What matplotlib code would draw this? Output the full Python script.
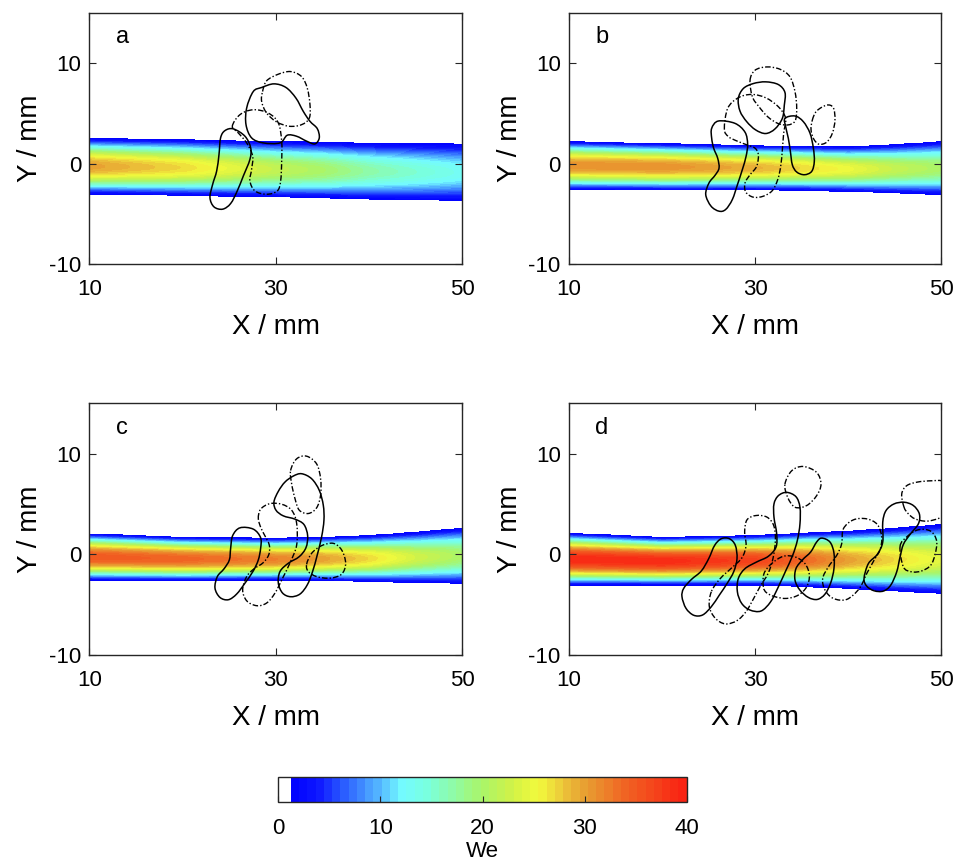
import numpy as np
import matplotlib
matplotlib.use('Agg')
import matplotlib.pyplot as plt
from matplotlib.colors import LinearSegmentedColormap, ListedColormap, BoundaryNorm
from matplotlib.path import Path
from matplotlib.patches import PathPatch
from matplotlib.cm import ScalarMappable

plt.rcParams['font.family'] = ['Liberation Sans', 'DejaVu Sans']
plt.rcParams['axes.unicode_minus'] = False

# stations along the jet (mm) where edges and peak We were read
x_st = [10, 20, 30, 35, 40, 45, 50]

# upper / lower jet edge (mm) and centreline We, per panel
top_a = [2.5, 2.4, 2.2, 2.15, 2.05, 2.0, 1.95]
bot_a = [-3.0, -3.15, -3.3, -3.4, -3.5, -3.6, -3.65]
peak_a = [30, 27, 22, 20, 17, 15, 13]

top_b = [2.2, 2.0, 1.8, 1.75, 1.7, 1.9, 2.2]
bot_b = [-2.57, -2.6, -2.6, -2.65, -2.75, -2.9, -3.06]
peak_b = [31, 31, 29, 27, 25, 22, 20]

top_c = [2.04, 1.7, 1.6, 1.7, 1.87, 2.2, 2.6]
bot_c = [-2.57, -2.6, -2.57, -2.6, -2.7, -2.8, -2.9]
peak_c = [35, 34, 32, 30, 27, 23, 20]

top_d = [2.1, 1.7, 1.87, 2.1, 2.3, 2.6, 2.96]
bot_d = [-3.06, -3.06, -3.06, -3.2, -3.4, -3.65, -3.9]
peak_d = [39, 39, 37, 34, 30, 27, 24]

# vortex outlines (mm): solid = one sign, dash-dot = the other
a_solid = [
    [(25.45, 3.46), (24.55, 3.29), (24.08, 2.57), (23.91, 0.92), (23.66, -0.72), (23.23, -2.04),
     (22.94, -3.36), (23.37, -4.28), (24.30, -4.51), (25.16, -3.95), (25.87, -2.70), (26.52, -1.22),
     (27.23, 0.43), (27.31, 1.58), (26.70, 2.73)],
    [(27.59, 7.17), (26.88, 5.53), (26.81, 3.88), (27.41, 2.57), (28.67, 2.07), (30.46, 2.07),
     (31.24, 2.83), (32.24, 2.73), (33.32, 2.24), (34.21, 1.97), (34.68, 2.57), (34.46, 3.49),
     (33.68, 4.21), (32.96, 5.20), (32.17, 6.52), (31.10, 7.57), (29.81, 7.93), (28.49, 7.57)],
]
a_dash = [
    [(25.34, 3.72), (26.16, 4.87), (27.59, 5.36), (29.20, 5.03), (30.28, 4.05), (30.64, 2.24),
     (30.64, 0.26), (30.53, -1.71), (30.17, -2.70), (29.02, -3.03), (27.77, -2.70), (27.23, -1.71),
     (27.41, -0.56), (27.52, 0.76), (26.88, 2.07), (25.98, 3.06)],
    [(28.59, 7.17), (29.02, 8.23), (30.28, 8.89), (31.60, 9.15), (32.78, 8.65), (33.39, 7.50),
     (33.68, 5.86), (33.61, 4.54), (32.78, 3.88), (31.46, 3.72), (30.10, 4.15), (29.02, 5.03),
     (28.49, 6.19)],
]

b_solid = [
    [(25.32, 3.52), (26.03, 4.24), (27.82, 4.01), (28.90, 3.13), (29.18, 1.94), (29.01, 0.72),
     (28.61, -0.59), (28.11, -2.01), (27.54, -3.55), (26.82, -4.54), (26.11, -4.71), (25.25, -4.21),
     (24.68, -3.06), (25.03, -1.91), (25.68, -1.15), (26.11, -0.43), (25.96, 0.56), (25.53, 1.55),
     (25.32, 2.53)],
    [(28.72, 7.47), (29.79, 7.96), (31.12, 8.13), (32.48, 7.86), (33.19, 7.07), (33.12, 5.82),
     (32.91, 4.51), (32.12, 3.46), (31.12, 3.00), (30.04, 3.36), (29.08, 4.18), (28.36, 5.23),
     (28.18, 6.48)],
    [(33.19, 4.51), (34.27, 4.74), (35.16, 4.18), (35.88, 3.03), (36.24, 1.55), (36.34, 0.23),
     (36.06, -0.76), (35.27, -1.09), (34.45, -0.82), (33.98, -0.10), (33.77, 1.22), (33.55, 2.53),
     (33.26, 3.69)],
]
b_dash = [
    [(26.68, 3.45), (27.04, 5.50), (28.18, 6.55), (29.61, 6.88), (31.12, 6.55), (32.48, 5.66),
     (33.26, 4.51), (33.05, 3.03), (32.91, 1.38), (32.73, -0.26), (32.41, -1.58), (31.83, -2.67),
     (30.87, -3.22), (29.79, -3.32), (28.97, -2.80), (28.90, -1.91), (29.44, -1.09), (30.15, -0.26),
     (30.33, 0.89), (29.97, 1.55), (29.08, 1.88), (28.00, 2.27), (27.11, 2.70)],
    [(29.44, 8.29), (29.97, 9.28), (31.23, 9.61), (32.66, 9.38), (33.73, 8.62), (34.27, 7.14),
     (34.45, 5.50), (34.27, 4.24), (33.48, 3.85), (32.41, 4.01), (31.33, 4.67), (30.40, 5.66),
     (29.69, 6.65)],
    [(36.13, 4.34), (36.59, 5.23), (37.67, 5.82), (38.38, 5.56), (38.56, 4.34), (38.28, 3.03),
     (37.67, 2.14), (36.84, 1.94), (36.27, 2.47), (35.99, 3.36)],
]

c_solid = [
    [(26.16, 2.63), (27.59, 2.50), (28.38, 1.65), (28.38, 0.59), (28.13, -0.56), (27.59, -1.65),
     (26.70, -2.86), (25.80, -3.95), (24.91, -4.51), (24.01, -4.28), (23.48, -3.36), (23.73, -2.21),
     (24.44, -1.45), (25.02, -0.56), (25.16, 0.59), (25.37, 1.84)],
    [(30.99, 7.17), (31.89, 7.77), (32.78, 8.00), (33.86, 7.50), (34.68, 6.35), (35.11, 4.87),
     (35.18, 3.39), (34.93, 1.74), (34.46, -0.07), (33.96, -1.71), (33.39, -3.03), (32.60, -3.95),
     (31.60, -4.21), (30.74, -3.85), (30.28, -2.86), (30.46, -1.71), (31.35, -0.89), (32.53, -0.23),
     (33.25, 0.66), (33.43, 1.84), (33.03, 2.96), (32.07, 3.49), (30.81, 3.82), (30.03, 4.38),
     (29.81, 5.20), (30.28, 6.25)],
]
c_dash = [
    [(28.13, 3.55), (28.38, 4.48), (29.38, 5.03), (30.64, 4.97), (31.71, 4.38), (32.25, 3.06),
     (32.25, 0.92), (31.60, -0.72), (30.74, -2.37), (29.92, -3.85), (29.02, -4.84), (27.95, -5.10),
     (26.88, -4.61), (26.45, -3.52), (26.88, -2.21), (27.66, -1.45), (28.67, -0.82), (29.27, 0.00),
     (29.31, 0.92), (28.84, 1.84), (28.41, 2.63)],
    [(31.60, 8.32), (32.25, 9.48), (33.32, 9.74), (34.39, 8.98), (34.82, 7.50), (34.82, 5.86),
     (34.39, 4.61), (33.50, 4.05), (32.53, 4.38), (32.07, 5.53), (31.71, 7.01)],
    [(33.32, -1.00), (33.86, 0.10), (34.93, 0.86), (36.18, 1.09), (37.08, 0.43), (37.51, -0.89),
     (37.08, -1.97), (35.82, -2.37), (34.39, -2.21), (33.50, -1.71)],
]

d_solid = [
    [(22.31, -3.39), (22.13, -4.21), (22.56, -5.36), (23.39, -6.05), (24.35, -6.02), (25.28, -5.20),
     (26.14, -4.05), (26.97, -2.90), (27.68, -1.74), (28.04, -0.43), (27.86, 0.89), (27.22, 1.55),
     (26.36, 1.55), (25.64, 0.89), (25.00, -0.43), (24.21, -1.65), (23.14, -2.50)],
    [(33.37, 6.15), (34.37, 5.72), (34.80, 4.67), (34.80, 3.02), (34.52, 1.38), (34.02, -0.10),
     (33.30, -1.58), (32.48, -3.23), (31.65, -4.71), (30.62, -5.63), (29.43, -5.53), (28.54, -4.87),
     (28.08, -3.72), (28.18, -2.40), (28.90, -1.42), (30.15, -0.76), (31.40, -0.20), (32.23, 0.72),
     (32.30, 2.04), (32.01, 3.68), (32.01, 5.00), (32.48, 5.82)],
    [(37.13, 1.61), (38.02, 1.22), (38.45, 0.13), (38.45, -1.42), (38.10, -2.83), (37.49, -3.95),
     (36.66, -4.48), (35.70, -4.28), (34.80, -3.56), (34.27, -2.57), (34.37, -1.42), (35.09, -0.53),
     (35.95, 0.23), (36.59, 1.22)],
    [(41.68, -2.40), (42.15, -0.92), (43.11, 0.00), (43.69, 1.22), (43.69, 3.19), (44.04, 4.34),
     (44.90, 5.00), (45.98, 5.17), (46.98, 4.84), (47.62, 4.02), (47.52, 3.03), (46.62, 1.97),
     (45.91, 0.99), (45.55, -0.26), (45.19, -1.74), (44.55, -3.06), (43.76, -3.65), (42.76, -3.62),
     (41.97, -3.16)],
]
d_dash = [
    [(25.28, -3.72), (25.07, -5.20), (25.71, -6.35), (26.79, -6.91), (28.04, -6.58), (29.01, -5.69),
     (29.83, -4.38), (30.54, -3.16), (31.37, -1.91), (31.90, -0.43), (32.16, 1.38), (31.98, 2.86),
     (31.26, 3.69), (30.08, 3.85), (29.11, 3.42), (28.86, 2.21), (29.01, 0.89), (28.58, -0.33),
     (27.50, -1.32), (26.25, -2.40)],
    [(33.19, 6.97), (33.91, 8.29), (35.16, 8.72), (36.59, 8.13), (37.06, 6.97), (36.59, 5.82),
     (35.52, 4.84), (34.27, 4.67), (33.48, 5.66)],
    [(30.87, -3.23), (30.94, -1.91), (31.76, -0.92), (33.01, -0.20), (34.27, -0.26), (35.34, -0.92),
     (35.81, -2.07), (35.52, -3.23), (34.62, -4.05), (33.37, -4.38), (32.12, -4.21), (31.22, -3.82)],
    [(39.46, 2.53), (40.54, 3.42), (41.97, 3.52), (43.11, 2.96), (43.58, 1.71), (43.40, 0.46),
     (42.76, -0.59), (41.97, -1.91), (41.18, -3.39), (39.82, -4.48), (38.39, -4.38), (37.49, -3.55),
     (37.24, -2.40), (37.85, -1.25), (38.75, -0.10), (39.28, 1.05)],
    [(45.55, 0.79), (46.33, 1.78), (47.52, 2.44), (48.84, 2.30), (49.48, 1.32), (49.31, 0.00),
     (48.84, -1.09), (47.87, -1.65), (46.80, -1.74), (45.91, -1.25)],
    [(45.98, 4.67), (45.73, 5.99), (46.26, 6.81), (47.41, 7.17), (48.95, 7.30), (50.20, 7.24),
     (51.09, 6.32), (50.92, 4.34), (49.84, 3.62), (48.41, 3.29), (47.16, 3.52), (46.44, 4.02)],
]

panels = [
    ("a", top_a, bot_a, peak_a, a_solid, a_dash),
    ("b", top_b, bot_b, peak_b, b_solid, b_dash),
    ("c", top_c, bot_c, peak_c, c_solid, c_dash),
    ("d", top_d, bot_d, peak_d, d_solid, d_dash),
]

# colour scale (We) as seen on the colour bar
cmap_pos = [0, 1.24, 4, 7, 10, 12, 14.5, 17.8, 20, 23, 25.5, 27.8, 30, 34, 40]
cmap_rgb = [(0, 0, 255), (0, 0, 255), (15, 25, 255), (50, 110, 255), (85, 185, 255),
            (115, 250, 255), (120, 255, 225), (150, 250, 150), (170, 245, 105), (210, 242, 70),
            (242, 250, 60), (236, 200, 58), (232, 160, 50), (240, 100, 35), (250, 32, 18)]
we_min, we_max = 1.24, 40

base = LinearSegmentedColormap.from_list(
    "we", [(p / 40, tuple(c / 255 for c in rgb)) for p, rgb in zip(cmap_pos, cmap_rgb)])
levels = np.concatenate([[0], np.linspace(we_min, we_max, 49)])
mids = (levels[1:-1] + levels[2:]) / 2
cmap = ListedColormap([(1, 1, 1)] + [base(m / 40) for m in mids])
norm = BoundaryNorm(levels, cmap.N)


def jet_field(top, bot, peak):
    xg = np.linspace(10, 50, 401)
    yg = np.linspace(-10, 15, 601)
    X, Y = np.meshgrid(xg, yg)
    t = np.interp(xg, x_st, top)
    b = np.interp(xg, x_st, bot)
    p = np.interp(xg, x_st, peak)
    c = (t + b) / 2
    h = (t - b) / 2
    eta = (Y - c) / h
    inside = np.abs(eta) < 1
    prof = np.clip(1 - eta ** 2, 0, 1) ** 1.4
    Z = np.where(inside, 1.4 + (p - 1.4) * prof, 0.0)
    return X, Y, np.clip(Z, 0, 39.9)


def loop_path(pts):
    # closed Catmull-Rom curve through the read points, as cubic Bezier pieces
    P = np.array(pts)
    n = len(P)
    verts = [P[0]]
    codes = [Path.MOVETO]
    for i in range(n):
        p0, p1, p2, p3 = P[i - 1], P[i], P[(i + 1) % n], P[(i + 2) % n]
        verts += [p1 + (p2 - p0) / 6, p2 - (p3 - p1) / 6, p2]
        codes += [Path.CURVE4] * 3
    return Path(verts, codes)


fig = plt.figure(figsize=(9.57, 8.66), dpi=100)
pos = [
    [0.0935, 0.6946, 0.3892, 0.2908],
    [0.5946, 0.6946, 0.3892, 0.2908],
    [0.0935, 0.2436, 0.3892, 0.2908],
    [0.5946, 0.2436, 0.3892, 0.2908],
]
edge = '#262626'

for (letter, top, bot, peak, sol, das), p in zip(panels, pos):
    ax = fig.add_axes(p)
    X, Y, Z = jet_field(top, bot, peak)
    ax.contourf(X, Y, Z, levels=levels, cmap=cmap, norm=norm)
    for pts in sol:
        ax.add_patch(PathPatch(loop_path(pts), fill=False, lw=1.1, ec='k', ls='-'))
    for pts in das:
        ax.add_patch(PathPatch(loop_path(pts), fill=False, lw=1.0, ec='k',
                               ls=(0, (4, 1.5, 1, 1.5))))
    ax.set_xlim(10, 50)
    ax.set_ylim(-10, 15)
    ax.set_xticks([10, 30, 50])
    ax.set_yticks([-10, 0, 10])
    ax.tick_params(direction='in', top=True, right=True, length=5, width=0.8,
                   labelsize=16, color=edge, labelcolor='k')
    ax.tick_params(axis='x', pad=10.5)
    ax.tick_params(axis='y', pad=6)
    for s in ax.spines.values():
        s.set_color(edge)
        s.set_linewidth(1.0)
    ax.set_xlabel('X / mm', fontsize=20, labelpad=10)
    ax.set_ylabel('Y / mm', fontsize=20, labelpad=4)
    ax.text(0.071, 0.903, letter, transform=ax.transAxes, fontsize=17, ha='left', va='center')

cax = fig.add_axes([0.2908, 0.0742, 0.4268, 0.0289])
sm = ScalarMappable(norm=norm, cmap=cmap)
cb = fig.colorbar(sm, cax=cax, orientation='horizontal', spacing='proportional',
                  ticks=[0, 10, 20, 30, 40])
cax.minorticks_off()
cb.outline.set_edgecolor(edge)
cb.outline.set_linewidth(1.0)
cax.tick_params(direction='in', length=4, width=0.8, labelsize=16, color=edge, pad=12)
cb.set_label('We', fontsize=16, labelpad=1)

fig.savefig('out.png', dpi=100)
